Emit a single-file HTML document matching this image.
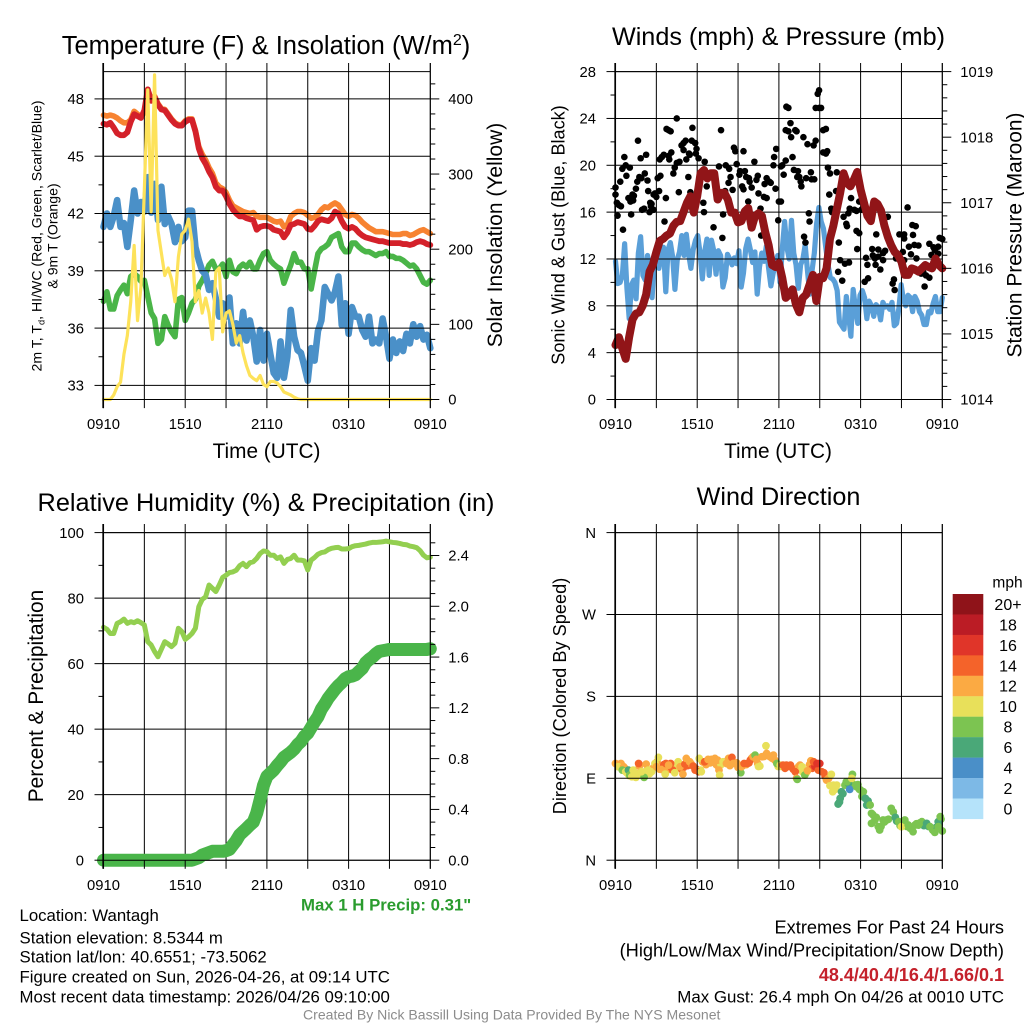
<!DOCTYPE html>
<html><head><meta charset="utf-8"><title>NYS Mesonet Station Meteogram</title>
<style>
html,body{margin:0;padding:0;background:#fff}
svg{display:block}
text{font-family:"Liberation Sans",sans-serif;fill:#000}
</style></head>
<body>
<svg id="chart" width="1024" height="1024" viewBox="0 0 1024 1024" xmlns="http://www.w3.org/2000/svg">
<rect width="1024" height="1024" fill="#fff"/>
<text x="266" y="54" font-size="25.5" text-anchor="middle">Temperature (F) &amp; Insolation (W/m<tspan font-size="16" dy="-9">2</tspan><tspan dy="9">)</tspan></text>
<text x="778.5" y="45" font-size="25.2" text-anchor="middle">Winds (mph) &amp; Pressure (mb)</text>
<text x="266" y="511" font-size="25.3" text-anchor="middle">Relative Humidity (%) &amp; Precipitation (in)</text>
<text x="778.5" y="505" font-size="25.2" text-anchor="middle">Wind Direction</text>
<text transform="translate(41.5,236) rotate(-90)" font-size="14.1" text-anchor="middle">2m T, T<tspan font-size="9.3" dy="3">d</tspan><tspan dy="-3">, HI/WC (Red, Green, Scarlet/Blue)</tspan></text>
<text transform="translate(57.5,236) rotate(-90)" font-size="14.1" text-anchor="middle">&amp; 9m T (Orange)</text>
<text transform="translate(502,235) rotate(-90)" font-size="21" text-anchor="middle">Solar Insolation (Yellow)</text>
<text transform="translate(564.5,235) rotate(-90)" font-size="18.1" text-anchor="middle">Sonic Wind &amp; Gust (Blue, Black)</text>
<text transform="translate(1021.5,235) rotate(-90)" font-size="20.9" text-anchor="middle">Station Pressure (Maroon)</text>
<text transform="translate(43,696) rotate(-90)" font-size="20.9" text-anchor="middle">Percent &amp; Precipitation</text>
<text transform="translate(566,696) rotate(-90)" font-size="18.2" text-anchor="middle">Direction (Colored By Speed)</text>
<text x="266.5" y="458" font-size="20.8" text-anchor="middle">Time (UTC)</text>
<text x="778" y="458" font-size="20.8" text-anchor="middle">Time (UTC)</text>
<text x="301" y="910.5" font-size="16.8" font-weight="bold" style="fill:#2a9c2e">Max 1 H Precip: 0.31"</text>
<text x="19.5" y="921" font-size="16.8">Location: Wantagh</text>
<text x="19.5" y="943.3" font-size="16.8">Station elevation: 8.5344 m</text>
<text x="19.5" y="962.7" font-size="16.8">Station lat/lon: 40.6551; -73.5062</text>
<text x="19.5" y="982.7" font-size="16.8">Figure created on Sun, 2026-04-26, at 09:14 UTC</text>
<text x="19.5" y="1002.3" font-size="16.8">Most recent data timestamp: 2026/04/26 09:10:00</text>
<text x="1004" y="933.3" font-size="18.2" text-anchor="end">Extremes For Past 24 Hours</text>
<text x="1004" y="956.7" font-size="18.25" text-anchor="end">(High/Low/Max Wind/Precipitation/Snow Depth)</text>
<text x="1004" y="981" font-size="18" font-weight="bold" text-anchor="end" style="fill:#c4212b">48.4/40.4/16.4/1.66/0.1</text>
<text x="1004" y="1002.7" font-size="16.9" text-anchor="end">Max Gust: 26.4 mph On 04/26 at 0010 UTC</text>
<text x="303" y="1019.3" font-size="14.05" style="fill:#8c8c8c">Created By Nick Bassill Using Data Provided By The NYS Mesonet</text>
</svg>
<script>
// ---------- chart data ----------
const timeTickHours = [0,3,6,9,12,15,18,21,24];
const timeTickLabels = ['0910','','1510','','2110','','0310','','0910'];

const tempTicks = [33,36,39,42,45,48];
const tempMinorTicks = [34.5,37.5,40.5,43.5,46.5];
const solarTicks = [0,100,200,300,400];
const solarMinorTicks = [20,40,60,80,120,140,160,180,220,240,260,280,320,340,360,380,420];
const windTicks = [0,4,8,12,16,20,24,28];
const windMinorTicks = [2,6,10,14,18,22,26];
const pressureTicks = [1014,1015,1016,1017,1018,1019];
const pressureMinorTicks = [1014.2,1014.4,1014.6,1014.8,1015.2,1015.4,1015.6,1015.8,1016.2,1016.4,1016.6,1016.8,1017.2,1017.4,1017.6,1017.8,1018.2,1018.4,1018.6,1018.8];
const humidityTicks = [0,20,40,60,80,100];
const humidityMinorTicks = [10,30,50,70,90];
const precipTicks = [0,0.4,0.8,1.2,1.6,2.0,2.4];
const precipTickLabels = ['0.0','0.4','0.8','1.2','1.6','2.0','2.4'];
const precipMinorTicks = [0.1,0.2,0.3,0.5,0.6,0.7,0.9,1.0,1.1,1.3,1.4,1.5,1.7,1.8,1.9,2.1,2.2,2.3,2.5];
const directionTicks = [0,90,180,270,360];
const directionTickLabels = ['N','E','S','W','N'];

const temp9m = [47.15,47.1,47.15,47.1,47.0,46.85,46.75,46.75,46.9,47.35,47.2,47.05,47.3,48.5,47.95,48.15,47.75,47.5,47.45,47.2,46.95,46.75,46.65,46.65,46.85,46.95,46.95,46.35,45.5,45.1,44.8,44.4,44.1,43.6,43.4,43.3,43.1,42.7,42.4,42.3,42.2,42.1,42.05,42.0,42.05,41.85,41.8,41.8,41.8,41.7,41.6,41.55,41.6,41.3,41.4,41.85,42.0,42.1,42.1,42.05,41.9,41.75,41.8,41.95,42.2,42.35,42.3,42.45,42.55,42.45,42.2,41.95,41.85,41.95,41.9,41.75,41.55,41.4,41.25,41.15,41.05,41.05,41.05,41.0,40.95,40.9,40.9,40.9,40.95,40.95,40.85,40.9,41.0,41.1,41.15,41.05,40.95];
const temp2m = [46.7,46.65,46.75,46.5,46.2,46.1,46.1,46.25,46.8,47.2,47.1,47.0,47.4,48.5,47.9,48.1,47.7,47.45,47.4,47.15,46.9,46.7,46.6,46.6,46.8,46.9,46.9,46.3,45.4,44.9,44.6,44.2,43.9,43.4,43.2,43.2,42.9,42.5,42.2,42.0,41.85,41.85,41.75,41.7,41.65,41.15,41.3,41.35,41.35,41.3,41.15,41.1,41.05,40.75,41.0,41.4,41.45,41.55,41.5,41.45,41.2,41.15,41.35,41.6,41.7,41.65,41.6,41.75,42.1,42.0,41.6,41.3,41.2,41.3,41.2,41.0,40.85,40.75,40.7,40.65,40.6,40.55,40.55,40.5,40.45,40.45,40.45,40.45,40.4,40.4,40.35,40.4,40.5,40.55,40.5,40.4,40.35];
const dewpoint = [37.4,37.9,37.0,37.0,37.7,38.0,38.25,37.8,38.7,38.85,38.7,38.45,38.5,37.65,36.8,36.5,35.2,35.4,36.6,36.15,35.8,35.55,37.5,37.6,36.4,36.8,37.3,37.5,38.2,38.5,38.85,39.3,39.5,39.1,39.1,39.35,38.7,39.55,38.95,38.85,39.2,39.35,39.2,39.45,39.1,39.1,39.55,39.9,40.0,39.55,39.35,39.2,39.1,38.35,38.85,39.3,39.9,39.45,39.45,39.1,39.1,38.05,39.0,39.9,40.15,40.25,40.4,40.75,40.85,40.95,40.25,40.0,40.0,40.45,40.45,40.25,40.1,40.0,40.0,39.9,39.8,39.9,39.9,40.0,39.75,39.75,39.65,39.65,39.55,39.4,39.25,39.3,39.1,38.75,38.4,38.3,38.5];
const windChill = [41.3,42.0,41.3,41.85,42.7,41.3,41.5,40.25,41.65,43.2,42.0,42.6,42.1,43.9,42.05,43.55,41.65,43.4,41.45,41.85,41.45,40.5,41.3,40.55,40.75,42.15,42.15,40.25,39.55,39.0,38.8,38.0,38.35,37.55,36.6,37.3,36.6,37.6,35.2,36.25,35.2,36.85,35.35,36.4,35.55,34.25,35.9,34.3,35.7,34.65,33.65,33.4,35.3,33.4,34.5,36.95,35.55,34.85,34.7,34.0,33.25,34.95,34.3,35.85,36.4,38.15,37.8,37.45,37.9,38.7,36.15,37.3,35.7,37.1,36.6,36.6,35.9,35.55,36.6,35.2,35.4,35.2,36.5,35.55,34.4,35.4,34.7,35.3,34.8,35.7,35.2,36.2,35.55,36.1,35.4,35.65,34.95];
const insolation = [0,0,0,6,17,23,60,85,130,205,105,150,280,412,250,432,225,195,165,175,160,130,190,220,225,240,210,130,145,115,135,115,80,170,175,90,115,118,100,75,85,62,45,32,28,25,32,20,17,24,24,22,17,10,8,6,3,1,0,0,0,0,0,0,0,0,0,0,0,0,0,0,0,0,0,0,0,0,0,0,0,0,0,0,0,0,0,0,0,0,0,0,0,0,0,0,0];

const sonicWind = [11.8,9.9,10,10.6,13.3,9.5,6.9,9.8,10.2,8.6,12.5,13.9,10.6,10.2,12.3,11.2,8.7,11.6,12.5,11.2,12.6,13,9.2,12.8,13.4,12.2,9.4,11.9,12.6,14,12.3,14.1,12.4,11.2,12.8,13.6,14,12.5,10.3,12.6,13.7,10.6,13.6,12.7,10.7,12.7,12.3,9.6,10.4,12.4,12,11.5,12.1,11.6,12.7,9.6,10.8,12.9,13.7,12.8,11.7,12.6,9,11.3,12.5,11.8,13.1,11.2,9.7,10.8,11.5,12.3,10,12.9,15.2,13,12,15.3,12.5,11.5,9.5,11.5,12,13.2,11,9,11,12.5,15,16.4,15.2,14.6,13,11.5,10.4,10.3,10,9.3,6.6,6.3,6,8.8,7.2,5.4,9.4,7.8,6.5,8.9,9.3,8.7,6.9,8.4,8,7.1,8.1,7.9,6.8,8.3,7.9,8,7.7,8.3,6.3,6.5,7.8,9.8,8.5,8,8.9,8.7,7.5,8.8,8.4,7.5,7.2,6.4,6.4,7.5,7.4,8.2,8.8,7.5,7.5,8.7];
const pressure = [1014.83,1014.95,1014.78,1014.62,1014.95,1015.22,1015.31,1015.33,1015.43,1015.6,1015.95,1016.06,1016.25,1016.42,1016.45,1016.5,1016.53,1016.65,1016.71,1016.72,1016.86,1017,1017.1,1016.85,1017.1,1017.45,1017.5,1017.37,1017.45,1017.45,1017.05,1017.15,1017.15,1017.05,1016.85,1016.85,1016.7,1016.72,1016.87,1016.92,1016.62,1016.8,1016.84,1016.8,1016.55,1016.35,1016.05,1016.02,1016.08,1015.85,1015.55,1015.6,1015.68,1015.45,1015.33,1015.55,1015.6,1015.75,1015.9,1015.5,1015.87,1015.85,1016,1016.45,1016.65,1016.9,1017.15,1017.45,1017.3,1017.25,1017.35,1017.47,1017.2,1017,1016.8,1016.72,1017.02,1016.98,1016.88,1016.65,1016.48,1016.35,1016.25,1016.2,1016.1,1015.9,1015.9,1016,1015.98,1015.95,1016,1016.05,1016.02,1016,1016.15,1016.05,1016];
const gustHours = [0,0,0.1,0.25,0.4,0.15,0.55,0.35,0.5,0.65,0.75,1.05,0.8,1.65,1.85,2.25,2.15,1.75,1.9,1.6,2.35,1.5,2.4,1.25,1.35,0.95,1.1,1.3,1.15,1.95,2.1,2.55,2.65,2.6,2.5,2.8,2.9,3.2,3.1,3.3,2.8,3,3.7,3.6,3.25,3.4,3.55,4.1,3.9,3.95,3.75,3.9,4.05,4.5,5.65,5,4.85,5.15,5.6,5.85,5.95,5.9,5.4,5,5.2,5.45,6.1,4.7,4.5,4.35,4.25,5.35,4.65,5.5,6.55,6.7,6.45,6.5,7.9,7.2,7.75,7.6,8.1,8.35,8.45,8.3,8.05,8.6,8.7,8.8,9.4,10.2,8.9,9.15,9.5,9.1,9.6,9.8,10.45,10.35,9.85,9.3,9.4,10,10.5,10.9,11.1,9.75,10.65,11.1,10.95,11.3,11.4,11.75,11.6,12.15,12.25,12.35,12.5,11.65,11.8,12,12.15,11.95,13,12.5,12.7,13.2,13.3,12.85,12.9,12.55,12.7,13.8,14.1,14.55,14.7,13.1,13.4,13.35,13.5,13.6,13.65,14,14.35,14.4,14.6,14.2,14.25,14.7,14.95,15.1,14.85,14.95,15.25,15.45,15.25,15.45,15.55,15.6,15.75,16.25,15.7,16.2,15.85,15.9,17.3,17.2,17.55,17.7,18.05,18.2,17.1,16.75,17.9,20,21.45,21.8,22.05,16.95,17,17.7,17.9,19.15,20.85,21.2,21.85,23.8,24,13.85,7.85,10.7,13.95,16.4,16.5,16.85,17.15,16.35,16.65,17.75,18.4,18.85,19.3,18.9,19.3,19.05,19.65,19.8,19.65,18.5,19.1,19.45,18.55,18.3,20.5,20.35,20.45,21.2,21.55,21.95,22.25,21.7,22.1,21.1,21.2,20.6,23.05,23.35,23.7,23.2,23.7,23.45,22.6,22.45,22.8,23.05,22.7];
const gustSpeeds = [18.1,17.5,16.8,16.6,16.5,15.7,14.5,18.6,19.7,20.7,20,19.8,19.1,22.1,20.6,20.9,19.3,19,18.9,18.6,18.7,18,17.8,17.5,17.4,17.2,16.9,17,15.8,16.2,16.3,16.8,16.7,16.5,16,17.5,17.6,17.8,18.9,19.1,16.2,17.3,17.2,15.2,20.5,20.7,20.9,21.1,20.8,20.5,23.1,23,22.9,24,23.2,21.9,21.7,22.1,22.1,21.9,21.4,21,21,21.3,20.5,20.9,20.6,20.3,20.2,19.8,19.3,19,17.7,17.7,20.3,18.2,16.8,16,15.8,14.7,23,19.9,20,19.7,19,18.5,17.8,17.9,21.5,21.2,21.2,20.3,20.1,19.5,19.5,19.2,19,18.9,19.1,18.75,18.6,18.2,17.95,18.1,17.6,17.3,17.2,16.9,16.3,18.9,18.4,18.6,18.5,18,20,19.9,20,19.2,20.4,20.7,21.4,16.9,16.9,15.3,20.7,23,22.9,23,22.9,23.6,22.4,25,24.9,22.4,21.8,21.7,22.1,19.6,19.5,19,19,18.6,18.2,18.9,19.4,18.8,18.8,15.9,15.2,24.9,24.9,24.9,26.1,26.4,23,23.1,21.1,21,21.2,19.8,19.3,19.4,17.5,17.8,16.3,16,17.2,16.3,16.2,16.1,16.2,16.3,15.9,15.6,16.9,15.6,16.4,14.9,14.8,15,14.8,14.4,14.2,14.1,14.1,14.1,14.05,13.8,13.7,13.9,13.8,14,13.4,13.4,11.9,11.6,11.7,10.9,10.15,12.85,12.1,12.85,12.8,12.3,12.2,12.05,12.5,12.7,11.9,11.5,11.5,11.1,10.35,10.05,9.35,9.9,10.25,13.75,13.05,13.2,13.15,12.4,12.05,12.6,11.9,12.05,13.3,13,13.05,12.35,12.45,12.75,10.9,10.75,10.6,10.4,9.65];

const humidity = [71.1,70.5,69.2,69.2,72.3,72.8,73.6,72.3,72.8,72.5,73.1,72.5,71.8,66.7,65.7,63.7,62.1,64.4,66.7,66,65.2,66.2,70.8,69.8,67.4,68.2,69.2,70.8,77.4,79.6,80.4,84,83,82,84,86.3,87,87.8,88,88.5,89.9,90.6,89.6,90.8,91.1,92.1,93.6,94.4,94.2,93.1,93.1,92.1,92.6,90.6,91.8,92.1,93.1,91.6,91.6,91.4,88.6,91.6,92.4,93.4,93.9,94.1,94.8,95.2,95.4,95.5,95,95,95.1,95.7,96,96.1,96.3,96.5,96.8,97,97,97.1,97.2,97.4,97.2,97,96.9,96.7,96.4,96.3,95.9,95.7,95.4,94.5,93.1,92.3,92.5];
const precipitation = [0,0,0,0,0,0,0,0,0,0,0,0,0,0,0,0,0,0,0,0,0,0,0,0,0,0,0,0.01,0.02,0.04,0.05,0.06,0.07,0.07,0.07,0.07,0.075,0.085,0.12,0.155,0.2,0.225,0.25,0.277,0.3,0.37,0.475,0.59,0.66,0.685,0.71,0.745,0.775,0.81,0.83,0.85,0.875,0.91,0.935,0.975,1,1.045,1.09,1.13,1.19,1.23,1.275,1.31,1.345,1.375,1.4,1.43,1.445,1.45,1.46,1.485,1.51,1.555,1.58,1.6,1.625,1.645,1.65,1.655,1.66,1.66,1.66,1.66,1.66,1.66,1.66,1.66,1.66,1.66,1.66,1.66,1.665];

const directionHours = [0.3,0.55,0.85,1,1.15,1.4,1.6,1.85,2,2.3,2.5,2.75,3.05,3.25,3.55,3.8,4.1,4.3,4.5,4.85,5,5.3,5.55,5.95,6.25,6.4,6.65,6.95,7.15,7.4,7.55,7.75,8.05,8.4,8.75,9,9.35,9.6,9.8,10,10.45,10.5,10.9,11.2,11.5,11.7,11.95,12.2,12.45,12.7,13.05,13.45,13.6,13.75,14,14.25,14.45,14.65,14.9,15.4,15.5,15.75,16.15,16.7,16.45,16.95,17.25,17.5,17.8,17.9,18.1,18.55,18.9,19.15,19.5,19.75,20.05,20.4,20.65,20.9,21.15,21.4,21.65,22.1,22.35,22.65,23,23.3,23.55,23.75,23.9,0,0.1,0.4,0.2,0.6,0.7,0.5,0.75,0.95,1.05,1.3,1.2,1.5,1.75,1.7,1.8,2.1,1.9,2.25,2.4,2.65,2.9,3.15,3,3.4,3.65,3.7,4.05,4.2,3.9,4.35,4.6,4.75,4.95,5.1,5.2,5.45,5.7,5.85,6.1,6.3,6.15,6.55,6.8,7.05,7.3,7.5,7.6,7.65,7.9,8.15,8.3,8.55,8.65,8.9,9.2,9.25,9.45,9.7,9.9,10.1,10.25,10.6,10.35,10.75,11.05,11.1,11.35,11.6,11.85,12.1,12.3,12.55,12.85,13.2,13.3,13.35,13.55,13.7,13.9,14.1,14.35,14.55,14.8,15,15.15,15.3,15.65,15.85,16,15.95,16.25,16.6,16.5,16.35,16.85,17.1,17.2,17,17.4,17.35,17.7,18,18.2,18.35,18.45,18.7,18.8,19.05,19.3,18.8,19.65,19.4,19.9,20.25,20.55,20.8,21,21.25,21.5,21.85,22,22.25,22.5,22.85,23.1,23.45,23.7,23.85,24,23.7];
const directionDegrees = [103,100,96,93,94,95,93,97,96,99,95,101,108,100,105,99,102,100,102,100,102,104,106,100,99,108,105,107,108,105,103,105,108,104,107,102,104,105,107,112,106,103,114,115,112,110,103,103,101,103,100,103,100,97,96,105,101,103,99,92,88,82,78,73,64,86,85,83,83,78,70,65,50,47,37,42,45,53,43,38,43,37,35,40,41,38,37,33,36,39,45,106.3,105.6,106.3,102.7,102.7,100.8,99,97.2,99,93.5,99,91.7,91,103.4,106.3,95.4,91,97.2,105.6,99,97.2,106.3,112.9,102.7,99.7,94.6,106.3,106.3,99,104.5,96.1,108.2,102.7,94.6,105.6,111.8,108.2,103.4,99,97.2,97.2,111.8,108.2,110.7,110.7,111.8,110,99,93.5,108.2,106.3,111.8,112.9,106.3,107,96.1,102.7,106.3,106.3,110,113.7,115.5,103.4,110.7,113.7,125.7,117.3,113.7,115.5,106.3,104.5,104.5,104.5,104.5,97.2,89.9,88.8,104.5,102.7,93.5,98.3,109.3,108.2,106.3,106.3,97.2,96.1,89.9,94.3,82.5,75.2,82.5,75.2,67.9,61.7,82.5,84.4,77.8,86.2,94.3,89.9,80.7,77,75.2,67.9,60.6,60.6,51.5,44.1,36.8,40.5,44.1,33.2,44.1,56.9,47,42.3,36.8,44.1,38.6,31.3,38.6,38.6,42.3,40.5,36.8,30.6,42.3,47.8,32.1,36.8];
const directionSpeeds = [10,10,10,10,10,10,10,12,10,10,10,12,12,12,14,12,14,14,10,14,14,14,12,14,10,12,12,12,12,12,12,10,10,12,12,12,14,12,14,12,12,10,12,12,12,12,10,10,14,14,14,12,10,10,10,12,14,16,14,14,12,10,10,6,6,8,8,8,8,8,8,6,8,8,8,8,8,8,6,8,8,8,8,8,8,6,6,8,6,6,8,12,12,12,10,12,12,8,10,6,8,10,10,10,12,14,10,8,10,12,10,10,10,10,12,12,10,14,14,14,12,10,10,12,12,14,12,12,14,14,14,10,10,14,12,12,12,12,12,10,10,12,12,14,12,12,8,12,14,14,14,12,8,10,12,12,10,12,12,12,8,10,14,14,14,14,12,8,12,10,8,12,12,14,16,16,14,14,12,10,10,10,10,6,6,6,8,6,4,8,8,10,8,8,8,6,6,8,8,8,8,8,8,8,8,8,6,8,10,8,8,8,8,8,8,6,8,8,6,8,8,8];

const legendLabels = ['20+','18','16','14','12','10','8','6','4','2','0'];

// ---------- rendering ----------
const svg = document.getElementById('chart');
const NS = 'http://www.w3.org/2000/svg';
const speedColors = ['#b5e3fa','#7db9e6','#4a8fc8','#4aa878','#7cc451','#e8e05a','#fbaa43','#f4632a','#e03529','#bb1c25','#8f1319'];
function linear(d0,d1,r0,r1){return v=>r0+(v-d0)*(r1-r0)/(d1-d0);}
function mk(tag,attrs,parent){const el=document.createElementNS(NS,tag);for(const k in attrs)el.setAttribute(k,attrs[k]);(parent||svg).appendChild(el);return el;}
function group(name){
  const g=mk('g',{});
  
  
  return g;
}
function seriesPath(values,xs,ys,stroke,width,name,parent){
  const n=values.length-1;
  const d=values.map((v,i)=>(i?'L':'M')+xs(i/n*24).toFixed(2)+' '+ys(v).toFixed(2)).join('');
  const p=mk('path',{d:d,fill:'none',stroke:stroke,'stroke-width':width,'stroke-linejoin':'round','stroke-linecap':'round'},parent);
  
  
  return p;
}
function seg(x1,y1,x2,y2,parent,w,name){
  const l=mk('line',{x1:x1,y1:y1,x2:x2,y2:y2,stroke:'#000','stroke-width':w||1},parent);
  
  
  return l;
}
function label(x,y,txt,anchor,parent,name,size){
  const t=mk('text',{x:x,y:y,'font-size':size||14.8,'text-anchor':anchor},parent);
  t.textContent=txt;
  
  
  return t;
}
function drawGrid(p,name){
  const g=group(name+'-grid');
  p.leftTicks.forEach(v=>seg(p.x0,p.yL(v),p.x1,p.yL(v),g,1,'horizontal-gridline'));
  timeTickHours.forEach(h=>seg(p.xs(h),p.top,p.xs(h),p.bottom,g,1,'vertical-gridline'));
}
function drawAxes(p,name){
  const g=group(name+'-axes');
  seg(p.x0-0.3,p.top-8.6,p.x0-0.3,p.bottom+8.6,g,1.7,'left-axis-line');
  seg(p.x1,p.top-8.6,p.x1,p.bottom+8.6,g,1,'right-axis-line');
  seg(p.x0,p.top,p.x1,p.top,g,1,'top-axis-line');
  seg(p.x0,p.bottom,p.x1,p.bottom,g,1,'bottom-axis-line');
  timeTickHours.forEach((h,i)=>{
    const x=p.xs(h);
    seg(x,p.top-8.6,x,p.top,g,1,'top-tick');
    seg(x,p.bottom,x,p.bottom+8.6,g,1,'bottom-tick');
    if(timeTickLabels[i])label(x,p.bottom+29.7,timeTickLabels[i],'middle',g,'x-tick-label');
  });
  p.leftTicks.forEach((v,i)=>{
    const y=p.yL(v);
    seg(p.x0-9,y,p.x0,y,g,1,'left-major-tick');
    label(p.x0-19.5,y+5.2,p.leftLabels?p.leftLabels[i]:String(v),'end',g,'left-tick-label');
  });
  (p.leftMinor||[]).forEach(v=>seg(p.x0-5,p.yL(v),p.x0,p.yL(v),g,1,'left-minor-tick'));
  if(p.yR){
    p.rightTicks.forEach((v,i)=>{
      const y=p.yR(v);
      seg(p.x1,y,p.x1+9,y,g,1,'right-major-tick');
      label(p.x1+18,y+5.2,p.rightLabels?p.rightLabels[i]:String(v),'start',g,'right-tick-label');
    });
    p.rightMinor.forEach(v=>{
      if(p.yR(v)>p.top)seg(p.x1,p.yR(v),p.x1+5,p.yR(v),g,1,'right-minor-tick');
    });
  }
}

// temperature panel
const tempX = linear(0,24,103.5,430.3);
const tempY = linear(33,48,385.4,98.9);
const solarY = linear(0,400,399.5,98.9);
const p1 = {x0:103.5,x1:430.3,top:71.6,bottom:399.5,xs:tempX,yL:tempY,yR:solarY,leftTicks:tempTicks,leftMinor:tempMinorTicks,rightTicks:solarTicks,rightMinor:solarMinorTicks};
const g1 = group('temperature-series');
seriesPath(temp9m,tempX,tempY,'#f78331',5.6,'temperature-9m-line',g1);
seriesPath(temp2m,tempX,tempY,'#d4212a',5.8,'temperature-2m-line',g1);
seriesPath(dewpoint,tempX,tempY,'#4ab548',5.6,'dewpoint-line',g1);
seriesPath(windChill,tempX,tempY,'#4a90c8',6.6,'wind-chill-line',g1);
drawGrid(p1,'temperature');
const g1b = group('insolation-series');
seriesPath(insolation,tempX,solarY,'#fde25a',3.2,'solar-insolation-line',g1b);
drawAxes(p1,'temperature');

// winds panel
const windX = linear(0,24,615.5,942.3);
const windY = linear(0,28,399.5,71.6);
const presY = linear(1014,1019,399.5,71.6);
const p2 = {x0:615.5,x1:942.3,top:71.6,bottom:399.5,xs:windX,yL:windY,yR:presY,leftTicks:windTicks,leftMinor:windMinorTicks,rightTicks:pressureTicks,rightMinor:pressureMinorTicks};
const g2 = group('wind-series');
seriesPath(sonicWind,windX,windY,'#5a9fd8',5.2,'sonic-wind-line',g2);
drawGrid(p2,'winds');
const g2b = group('gust-points');
gustHours.forEach((h,i)=>{
  const c=mk('circle',{cx:windX(h).toFixed(2),cy:windY(gustSpeeds[i]).toFixed(2),r:3.3,fill:'#000'},g2b);
  
  
});
const g2c = group('pressure-series');
seriesPath(pressure,windX,presY,'#911518',8,'station-pressure-line',g2c);
drawAxes(p2,'winds');

// humidity panel
const humX = linear(0,24,103.5,430.3);
const humY = linear(0,100,860.2,532.6);
const rainY = linear(0,2.4,860.2,555.5);
const p3 = {x0:103.5,x1:430.3,top:532.6,bottom:860.2,xs:humX,yL:humY,yR:rainY,leftTicks:humidityTicks,leftMinor:humidityMinorTicks,rightTicks:precipTicks,rightLabels:precipTickLabels,rightMinor:precipMinorTicks};
drawGrid(p3,'humidity');
const g3 = group('humidity-series');
seriesPath(humidity,humX,humY,'#93cf50',5,'relative-humidity-line',g3);
seriesPath(precipitation,humX,rainY,'#4ab54a',13,'precipitation-line',g3);
drawAxes(p3,'humidity');

// wind direction panel
const dirX = linear(0,24,615.5,942.3);
const dirY = linear(0,360,860.2,532.6);
const p4 = {x0:615.5,x1:942.3,top:532.6,bottom:860.2,xs:dirX,yL:dirY,leftTicks:directionTicks,leftLabels:directionTickLabels};
const g4 = group('direction-points');
directionHours.forEach((h,i)=>{
  const bin=Math.min(10,Math.floor(directionSpeeds[i]/2));
  const c=mk('circle',{cx:dirX(h).toFixed(2),cy:dirY(directionDegrees[i]).toFixed(2),r:3.9,fill:speedColors[bin]},g4);
  
  
});
drawGrid(p4,'direction');
drawAxes(p4,'direction');

// speed legend
const lg = group('speed-legend');
label(1007.5,587.5,'mph','middle',lg,'legend-unit',15.5);
legendLabels.forEach((txt,i)=>{
  const y=594+i*20.45;
  const r=mk('rect',{x:952.7,y:y.toFixed(2),width:30.6,height:20.6,fill:speedColors[10-i]},lg);
  
  
  label(1008,y+15.9,txt,'middle',lg,'legend-label',16);
});
</script>
</body></html>
